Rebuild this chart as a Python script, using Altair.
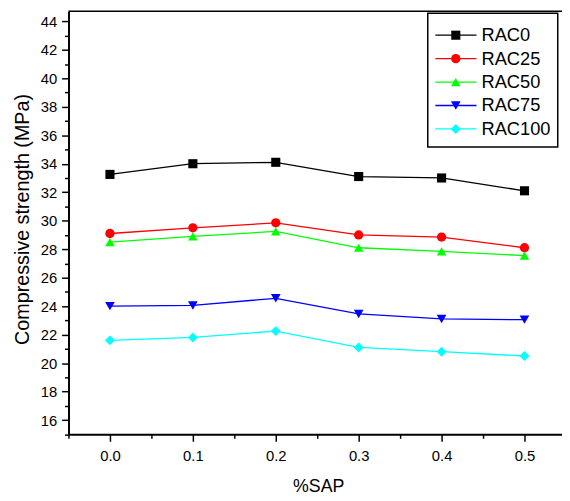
import altair as alt
import pandas as pd

# ---- data ----
series = ["RAC0", "RAC25", "RAC50", "RAC75", "RAC100"]
sap = [0.0, 0.1, 0.2, 0.3, 0.4, 0.5]
rac0 = [33.25, 34.0, 34.1, 33.1, 33.0, 32.1]
rac25 = [29.1, 29.5, 29.85, 29.0, 28.85, 28.1]
rac50 = [28.5, 28.9, 29.25, 28.1, 27.85, 27.55]
rac75 = [24.0, 24.05, 24.55, 23.45, 23.1, 23.05]
rac100 = [21.6, 21.8, 22.25, 21.1, 20.8, 20.5]

colors = ["#000000", "#ff0000", "#00ff00", "#0000ff", "#00ffff"]
shapes = ["square", "circle", "triangle-up", "triangle-down", "diamond"]
sizes = [85, 100, 130, 130, 120]

y_ticks = list(range(15, 45))
x_ticks = [round(-0.05 + 0.05 * i, 2) for i in range(12)]

rows = []
for name, vals in zip(series, [rac0, rac25, rac50, rac75, rac100]):
    for s, v in zip(sap, vals):
        rows.append({"series": name, "sap": s, "strength": v})
df = pd.DataFrame(rows)
legend_df = pd.DataFrame({"series": series})

W, H = 500, 428.7
FONT = "Liberation Sans"

color_scale = alt.Scale(domain=series, range=colors)
shape_scale = alt.Scale(domain=series, range=shapes)
size_scale = alt.Scale(domain=series, range=sizes)

x_enc = alt.X(
    "sap:Q",
    scale=alt.Scale(domain=[-0.05, -0.05 + W / 840], nice=False, zero=False),
    axis=alt.Axis(
        title="%SAP",
        values=x_ticks,
        labelExpr="abs(round(datum.value*20)) % 2 == 1 ? '' : format(datum.value, '.1f')",
        tickSize={"condition": {"test": "abs(round(datum.value*20)) % 2 == 0", "value": 7}, "value": 4},
        labelPadding=8,
        titleX=253,
        titleY=53,
        titleBaseline="middle",
        titleAlign="center",
        titleFontSize=18,
    ),
)
y_enc = alt.Y(
    "strength:Q",
    scale=alt.Scale(domain=[15, 15 + H / 14.43], nice=False, zero=False),
    axis=alt.Axis(
        title="Compressive strength (MPa)",
        values=y_ticks,
        labelExpr="datum.value % 2 == 0 ? datum.label : ''",
        tickSize={"condition": {"test": "datum.value % 2 == 0", "value": 7}, "value": 4},
        labelPadding=5,
        titleX=-47,
        titleY=210.5,
        titleAngle=-90,
        titleBaseline="middle",
        titleAlign="center",
        titleFontSize=20,
    ),
)

base = alt.Chart(df)
lines = base.mark_line(strokeWidth=1.3).encode(
    x=x_enc, y=y_enc,
    color=alt.Color("series:N", scale=color_scale, legend=None),
    detail="series:N",
)
points = base.mark_point(filled=True, opacity=1).encode(
    x=x_enc, y=y_enc,
    color=alt.Color("series:N", scale=color_scale, legend=None),
    shape=alt.Shape("series:N", scale=shape_scale, legend=None),
    size=alt.Size("series:N", scale=size_scale, legend=None),
)
data_layer = alt.layer(lines, points)

one = pd.DataFrame({"a": [0]})
top_frame = alt.Chart(one).mark_rule(color="black", strokeWidth=1.5).encode(
    x=alt.value(0), x2=alt.value(W + 20), y=alt.value(0)
)

# custom legend (line + marker symbols inside a framed box)
leg_y = alt.Y("series:N", scale=alt.Scale(type="point", domain=series, range=[24.3, 119.3], padding=0), axis=None)
leg_box = alt.Chart(one).mark_rect(fill="white", stroke="black", strokeWidth=1.5).encode(
    x=alt.value(364), x2=alt.value(495.7), y=alt.value(2), y2=alt.value(137.7)
)
leg_base = alt.Chart(legend_df)
leg_lines = leg_base.mark_rule(strokeWidth=1.3).encode(
    x=alt.value(371.7), x2=alt.value(413.4), y=leg_y,
    color=alt.Color("series:N", scale=color_scale, legend=None),
)
leg_pts = leg_base.mark_point(filled=True, opacity=1).encode(
    x=alt.value(392.4), y=leg_y,
    color=alt.Color("series:N", scale=color_scale, legend=None),
    shape=alt.Shape("series:N", scale=shape_scale, legend=None),
    size=alt.Size("series:N", scale=size_scale, legend=None),
)
leg_text = leg_base.mark_text(align="left", baseline="middle", fontSize=18.5, font=FONT, color="black").encode(
    x=alt.value(418.4), y=leg_y, text="series:N"
)
legend_layer = alt.layer(leg_lines, leg_pts, leg_text)

chart = (
    alt.layer(data_layer, top_frame, leg_box, legend_layer)
    .resolve_scale(y="independent")
    .properties(
        width=W,
        height=H,
        autosize=alt.AutoSizeParams(type="none"),
        padding={"left": 61.3, "top": 0, "right": 0, "bottom": 64.3},
        background="white",
    )
    .configure_view(stroke=None)
    .configure_axis(
        labelFont=FONT,
        labelFontSize=15,
        labelColor="black",
        titleFont=FONT,
        titleFontWeight="normal",
        titleColor="black",
        domainColor="black",
        domainWidth=2,
        tickColor="black",
        tickWidth=1.5,
        grid=False,
    )
)

chart.save("out.html", embed_options={"renderer": "svg", "actions": False})
